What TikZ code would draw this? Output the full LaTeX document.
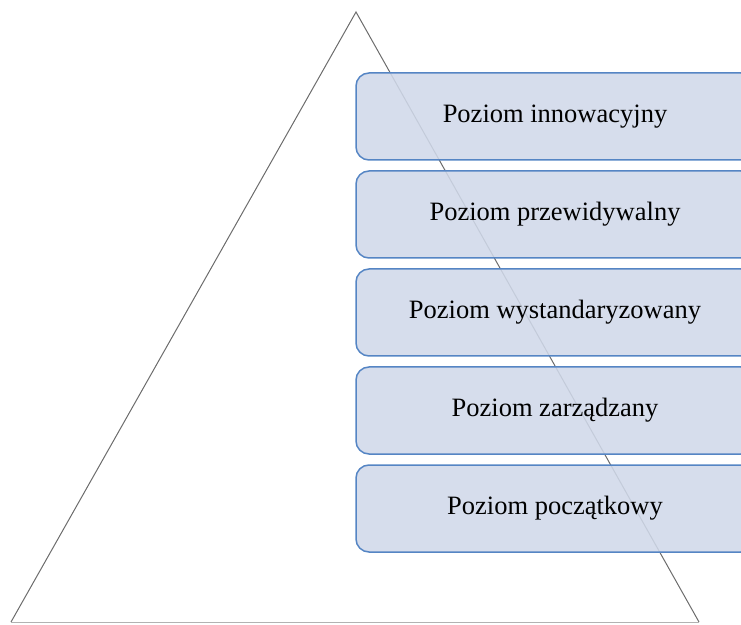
\documentclass[tikz,border=0pt]{standalone}
\usepackage{fontspec}
\setmainfont{Liberation Serif}
\begin{document}
\begin{tikzpicture}[x=1pt,y=1pt,
  level/.style={draw=levelblue, line width=1.5pt, fill=levelfill, fill opacity=0.88,
    text opacity=1, rounded corners=13pt, minimum width=398pt, minimum height=87pt,
    inner sep=0pt, font=\fontsize{26.5}{30}\selectfont},
  edge/.style={draw=gray!85!black, line width=1pt}]
\definecolor{levelblue}{HTML}{5585C4}
\definecolor{levelfill}{HTML}{D0D8E9}
\useasboundingbox (0,0) rectangle (741,624);
\clip (0,0) rectangle (741,624);
% pyramid outline
\coordinate (apex) at (356,612);
\coordinate (bl) at (11,2);
\coordinate (br) at (699,2);
\draw[edge] (bl) -- (apex) -- (br);
\draw[draw=gray!60, line width=1pt] (bl) -- (br);
% maturity levels
\node[level] (l5) at (555,507.5) {Poziom innowacyjny};
\node[level] (l4) at (555,409.5) {Poziom przewidywalny};
\node[level] (l3) at (555,311.5) {Poziom wystandaryzowany};
\node[level] (l2) at (555,213.5) {Poziom zarządzany};
\node[level] (l1) at (555,115.5) {Poziom początkowy};
\end{tikzpicture}
\end{document}
